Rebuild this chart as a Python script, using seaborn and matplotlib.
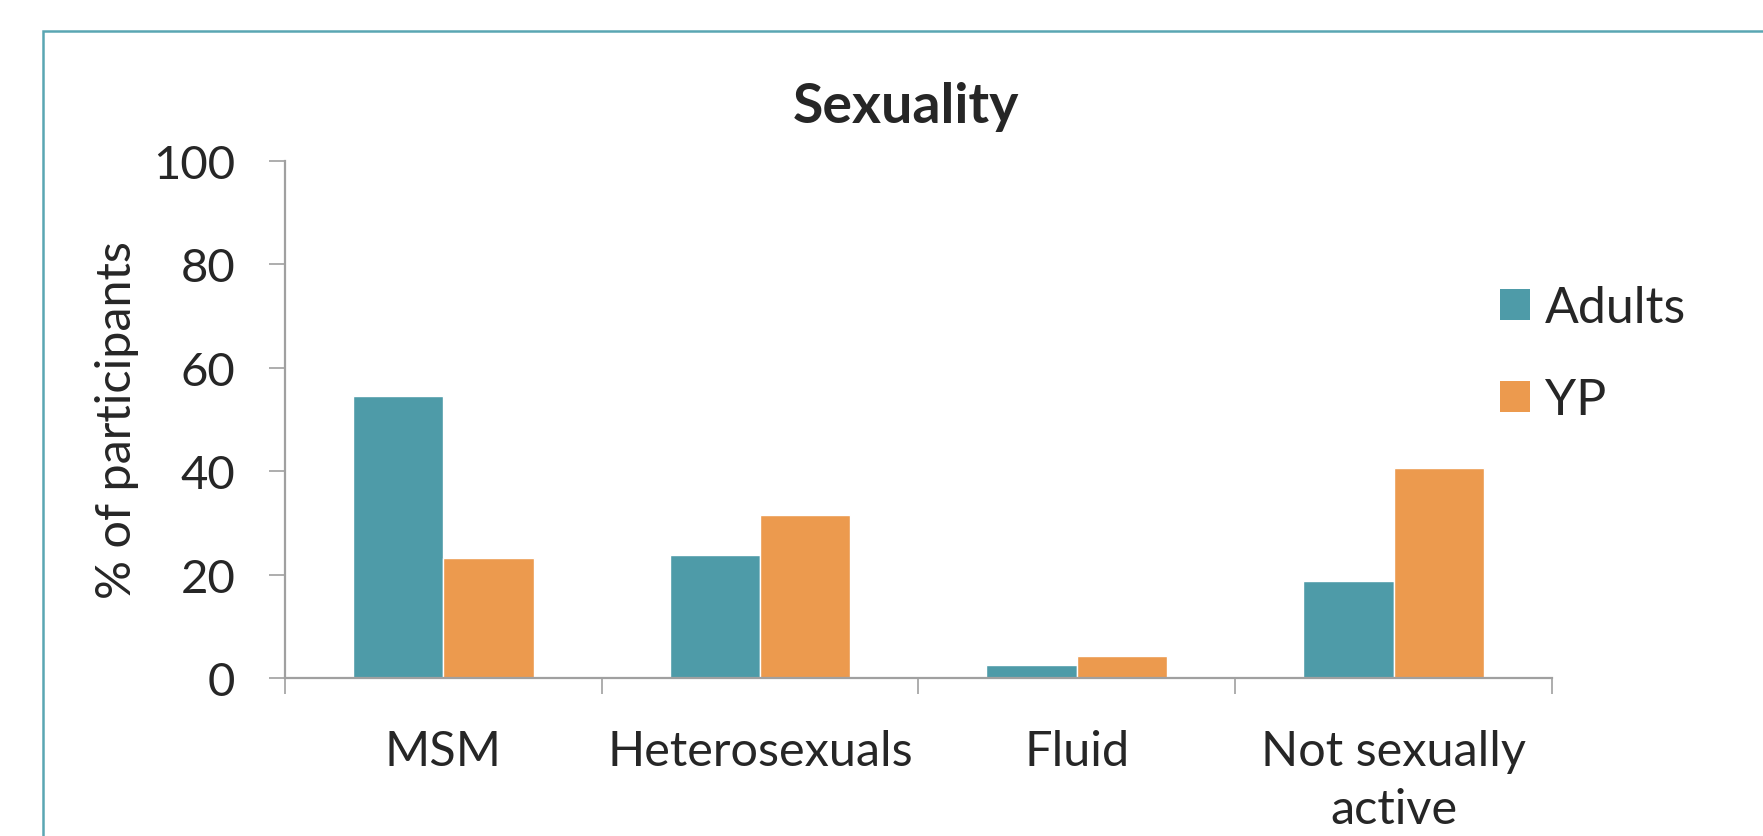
import matplotlib
matplotlib.use("Agg")
import matplotlib.pyplot as plt
from matplotlib.patches import Patch, Rectangle
import pandas as pd
import seaborn as sns

# Data
CATEGORIES = ["MSM", "Heterosexuals", "Fluid", "Not sexually\nactive"]
ADULTS = [54.5, 23.8, 2.6, 18.8]
YP = [23.3, 31.6, 4.3, 40.6]
GROUPS = ["Adults", "YP"]
COLORS = ["#4E9BA8", "#EC9A4E"]
YTICKS = [0, 20, 40, 60, 80, 100]

df = pd.DataFrame({
    "category": CATEGORIES * 2,
    "group": [GROUPS[0]] * len(CATEGORIES) + [GROUPS[1]] * len(CATEGORIES),
    "value": ADULTS + YP,
})

sns.set_theme(style="white")
plt.rcParams["font.family"] = ["Lato", "DejaVu Sans"]

W, H = 1763, 837
fig = plt.figure(figsize=(W / 100, H / 100), dpi=100)
ax = fig.add_axes([284.8 / W, 1 - 679 / H, (1552 - 284.8) / W, (679 - 162) / H])

sns.barplot(data=df, x="category", y="value", hue="group", order=CATEGORIES,
            hue_order=GROUPS, palette=COLORS, width=0.571, gap=0,
            saturation=1, ax=ax, legend=False)

# ── Axes styling ────────────────────────────────────────
grey = "#A0A0A0"
ax.set_xlim(-0.5, len(CATEGORIES) - 0.5)
ax.set_ylim(0, 100)
ax.set_yticks(YTICKS)
ax.set_xlabel("")
ax.set_ylabel("% of participants", fontsize=35, labelpad=10)
for s in ["top", "right"]:
    ax.spines[s].set_visible(False)
for s in ["left", "bottom"]:
    ax.spines[s].set_color(grey)
    ax.spines[s].set_linewidth(1.6)

ax.tick_params(axis="y", which="major", left=True, length=11.5, width=1.2,
               color=grey, labelsize=34, pad=24)
ax.tick_params(axis="x", which="major", bottom=False, length=0,
               labelsize=35, pad=37)
for lbl in ax.get_xticklabels():
    lbl.set_linespacing(1.38)
ax.set_xticks([i - 0.5 for i in range(len(CATEGORIES) + 1)], minor=True)
ax.tick_params(axis="x", which="minor", bottom=True, length=11.5, width=1.2,
               color=grey)

# Title
fig.text(906 / W, 1 - 107 / H, "Sexuality", ha="center", va="center",
         fontsize=40, fontweight="bold")

# Legend
handles = [Patch(facecolor=c, edgecolor="none") for c in COLORS]
fig.legend(handles, GROUPS, loc="upper left",
           bbox_to_anchor=(1500 / W, 1 - 286 / H), frameon=False,
           fontsize=36, handlelength=0.6, handleheight=0.6,
           handletextpad=0.3, labelspacing=0.92, borderpad=0,
           borderaxespad=0)

# Outer teal frame (only left and top edges visible in the picture)
fig.patches.append(Rectangle((43 / W, -0.1), 1.2, 1 - 32 / H + 0.1,
                             transform=fig.transFigure, fill=False,
                             edgecolor="#5AA6B3", linewidth=1.8))

fig.savefig("out.png", dpi=100)
